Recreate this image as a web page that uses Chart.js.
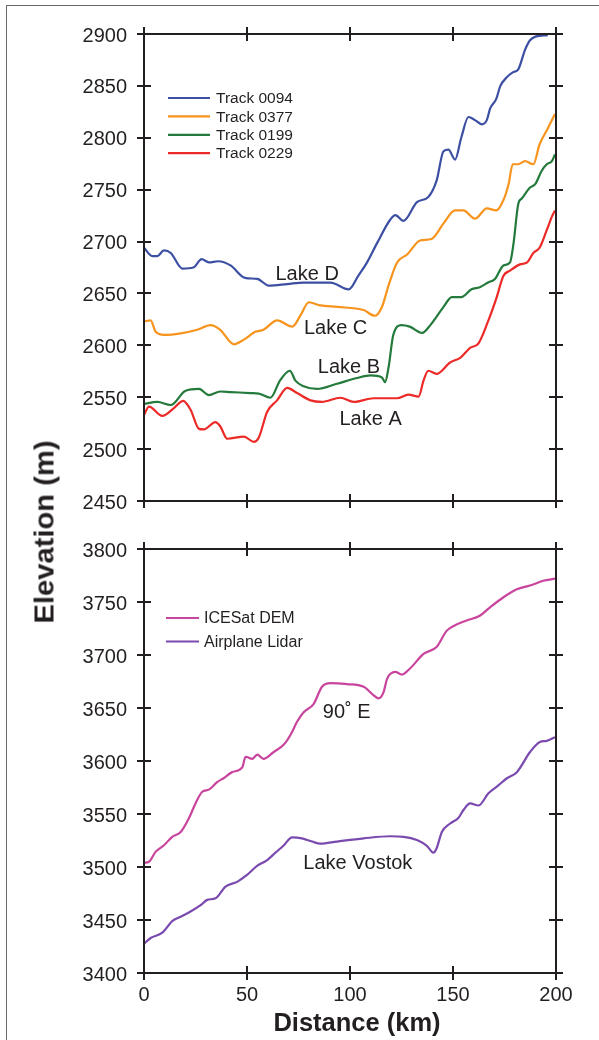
<!DOCTYPE html>
<html>
<head>
<meta charset="utf-8">
<script src="https://cdn.jsdelivr.net/npm/chart.js@4.4.1/dist/chart.umd.min.js"></script>
<style>
  html,body{margin:0;padding:0;background:#fff;}
  body{width:599px;height:1040px;position:relative;overflow:hidden;font-family:"Liberation Sans",Arial,sans-serif;}
  #frame{position:absolute;left:6px;top:5px;width:600px;height:1100px;border-left:1px solid #6a6a6a;border-top:1px solid #6a6a6a;}
  #c1wrap{position:absolute;left:0;top:0;width:599px;height:530px;}
  #c2wrap{position:absolute;left:0;top:520px;width:599px;height:520px;}
  .ytitle{position:absolute;left:45px;top:532px;transform:translate(-50%,-50%) rotate(-90deg) scaleX(1.08);font-weight:bold;font-size:27px;color:#231f20;white-space:nowrap;}
  .xtitle{position:absolute;left:357px;top:1022px;transform:translate(-50%,-50%);font-weight:bold;font-size:25.5px;color:#231f20;white-space:nowrap;}
</style>
</head>
<body>
<div id="frame"></div>
<div id="c1wrap"><canvas id="c1" width="599" height="530"></canvas></div>
<div id="c2wrap"><canvas id="c2" width="599" height="520"></canvas></div>
<div class="ytitle">Elevation (m)</div>
<div class="xtitle">Distance (km)</div>
<script>
// ---------------- DATA ----------------
const xTicks = [0, 50, 100, 150, 200];
const topYTicks = [2450, 2500, 2550, 2600, 2650, 2700, 2750, 2800, 2850, 2900];
const bottomYTicks = [3400, 3450, 3500, 3550, 3600, 3650, 3700, 3750, 3800];

const topLabels = ["Track 0094", "Track 0377", "Track 0199", "Track 0229"];
const bottomLabels = ["ICESat DEM", "Airplane Lidar"];

// Track 0094 (blue)
const track0094Km = [0,4,6.5,9.7,13,18.6,24,28,31.5,36,42,49,55,60.6,69.5,77.5,90.5,99.4,104,108,113,119.5,122,126,132.5,138,142,145.4,147.8,151,154,157.5,160.7,164,166.4,168,171,173,176,179,181.7,185,187.4,190,196];
const track0094M  = [2694,2686,2686,2691.5,2689,2674,2675,2683,2680,2681,2677,2665,2664,2657.5,2659,2660.5,2660.5,2654,2667,2679,2698,2721,2725.5,2720,2738,2743,2758.5,2787,2788.5,2779,2800,2820,2817,2813,2817,2828,2837.5,2850,2858,2863,2866,2885,2894,2897.5,2899];
// Track 0377 (orange)
const track0377Km = [0,3.2,5.7,9.7,17.8,25.8,32.3,37,43.6,48.5,54,58,64.6,72,76,80,85.6,93.7,106.6,112,115.5,118.7,122.8,128,134,139.5,145.4,151,155,160.7,166.4,171,174.5,177,179,181.7,185,189,192,196,199.5];
const track0377M  = [2623,2624,2613,2610,2611.5,2615,2619.5,2615,2601,2605.5,2613,2615,2624,2618,2629,2641.5,2638.5,2637,2634,2628.5,2637,2657.5,2679.5,2688,2701,2702.5,2717.5,2730,2730,2722,2732,2730,2740,2755.5,2774.5,2774.5,2777.5,2774.5,2793.5,2809,2823];
// Track 0199 (green)
const track0199Km = [0,6.5,13,20,26.7,31.5,37,42,51.7,55.7,61.4,66,70.8,73.5,77.5,84,93.7,103.4,110,115.5,117,118.7,121,125,129,135,139,145.4,149.4,154,159,163,167,170.4,174.5,177.7,179.3,181.7,183.4,187.4,190,193,195.5,198,199.5];
const track0199M  = [2543.5,2545.5,2542.5,2556,2558,2552,2555.5,2555,2554,2553.5,2549.5,2566,2575.5,2566,2560.5,2558,2563,2568.5,2571,2569,2564.5,2578.5,2610,2619.5,2618,2612,2619.5,2637,2646.5,2646.5,2654,2656,2660.5,2664,2677,2680,2697,2736.5,2741.5,2752,2755.5,2768,2774.5,2777.5,2784];
// Track 0229 (red)
const track0229Km = [0,2.4,8.9,14.5,19,22.6,26.7,29,34.7,37,40.4,48.5,53.3,55.7,59.8,64.6,69.5,74.3,80.8,86.4,95.3,101.8,111.5,122.8,128.4,133.3,135.7,138,142,148.6,153.5,158.3,162.4,167,171,174.5,177.7,182.5,186,189,192,195.5,198,199.5];
const track0229M  = [2533,2541,2532,2539.5,2546.5,2538,2519.5,2519,2526,2522,2510,2512,2507,2511,2536,2547,2559,2554,2547,2545.5,2549.5,2545.5,2549,2549,2552.5,2550.5,2566,2575.5,2572.5,2583.5,2588,2597.5,2602,2623,2645,2667,2672,2678,2680,2689,2694,2711,2724,2730];

// ICESat DEM (magenta)
const icesatKm = [0,2.4,5.7,9.7,13.7,17.8,21.8,25,28.3,31.5,35.5,38.8,42.8,47.7,49.3,52.5,55,58,63,67.9,71.5,74.3,77.5,82.4,86.4,90.5,98.5,106.6,111.5,113.8,116.3,118,122,125.2,129,135.7,142,147,151,156.6,163,168,174.5,181,187.4,193.8,199.5];
const icesatM  = [3504,3505,3514.5,3520.5,3528.5,3533,3546,3560,3571,3573,3580,3584,3589.5,3594,3604,3602,3606,3602,3608.5,3615.5,3626,3637,3646,3654,3670,3673.5,3672.5,3670,3662,3659,3665,3677.5,3684,3681.5,3687,3701,3707.5,3723,3728,3732.5,3737,3745,3754.5,3762,3765.5,3770,3772];
// Airplane Lidar (purple)
const lidarKm = [0,3.2,8.9,13.7,17.8,22.6,27.5,30.7,34.7,39.6,45.2,50,54.9,59.8,63.8,67.9,71.9,76.7,81.6,85.6,93.7,106.6,119.5,126,132.5,137.3,140.5,142,144.6,148.6,152.7,155,158.3,162.4,167.2,172,176,181,187.4,192.2,195.5,199.5];
const lidarM  = [3427.5,3433,3438,3449,3453,3458,3464,3469,3470.5,3481.5,3486,3492.5,3501,3506.5,3513.5,3520.5,3528,3527,3524,3522,3524,3527,3529,3528.5,3525.5,3520,3513.5,3517.5,3533,3541,3546.5,3553.5,3560,3558,3569.5,3577,3583.5,3589.5,3608.5,3618,3619,3622.5];

// annotations: [text, km, elevation]
const topNotes = [["Lake D", 79.2, 2668.5], ["Lake C", 93.0, 2616.5], ["Lake B", 99.5, 2579], ["Lake A", 110, 2529]];
const bottomNotes = [["90\u02DA E", 98.4, 3645.5], ["Lake Vostok", 103.8, 3503]];

const topColors = ["#3c4fa3", "#f7941e", "#237a3b", "#ec2a28"];
const bottomColors = ["#c9449d", "#7a4aae"];

// ---------------- HELPERS ----------------
const zip = (xs, ys) => xs.map((x, i) => ({x: x, y: ys[i]}));
const INK = "#231f20";
const FONT = '"Liberation Sans", Arial, sans-serif';

function mkDataset(label, xs, ys, color) {
  return {label, data: zip(xs, ys), borderColor: color, backgroundColor: color,
    borderWidth: 2.2, pointRadius: 0, tension: 0, cubicInterpolationMode: 'monotone',
    fill: false};
}

const framePlugin = {
  id: 'frameTicks',
  afterDatasetsDraw(chart, args, opts) {
    const {ctx, chartArea: a, scales: {x, y}} = chart;
    ctx.save();
    ctx.strokeStyle = INK;
    ctx.lineWidth = 2;
    ctx.strokeRect(a.left, a.top, a.right - a.left, a.bottom - a.top);
    const L = 7;
    ctx.beginPath();
    y.ticks.forEach(t => {
      const py = Math.round(y.getPixelForValue(t.value));
      ctx.moveTo(a.left - L, py); ctx.lineTo(a.left + L, py);
      ctx.moveTo(a.right - L, py); ctx.lineTo(a.right + L, py);
    });
    x.ticks.forEach(t => {
      const px = Math.round(x.getPixelForValue(t.value));
      ctx.moveTo(px, a.top - L); ctx.lineTo(px, a.top + L);
      ctx.moveTo(px, a.bottom - L); ctx.lineTo(px, a.bottom + L);
    });
    ctx.stroke();
    // annotations
    ctx.fillStyle = INK;
    ctx.font = '20px ' + FONT;
    ctx.textAlign = 'center';
    ctx.textBaseline = 'middle';
    (opts.notes || []).forEach(n => {
      ctx.fillText(n[0], x.getPixelForValue(n[1]), y.getPixelForValue(n[2]));
    });
    // legend
    const lg = opts.legend;
    if (lg) {
      ctx.font = lg.size + 'px ' + FONT;
      ctx.textAlign = 'left';
      chart.data.datasets.forEach((ds, i) => {
        const yy = lg.y + i * lg.step;
        ctx.strokeStyle = ds.borderColor;
        ctx.lineWidth = 2.2;
        ctx.beginPath();
        ctx.moveTo(lg.x0, yy); ctx.lineTo(lg.x1, yy);
        ctx.stroke();
        ctx.fillStyle = INK;
        ctx.fillText(ds.label, lg.tx, yy + 1);
      });
    }
    ctx.restore();
  }
};

function makeChart(id, datasets, yTicks, showX, padTop, xHeight, notes, legend) {
  return new Chart(document.getElementById(id), {
    type: 'line',
    data: {datasets},
    plugins: [framePlugin],
    options: {
      responsive: false,
      animation: false,
      events: [],
      layout: {padding: {left: 0, right: 43, top: padTop, bottom: 0}},
      plugins: {legend: {display: false}, tooltip: {enabled: false},
        frameTicks: {notes, legend}},
      scales: {
        x: {
          type: 'linear', min: xTicks[0], max: xTicks[xTicks.length - 1],
          afterBuildTicks: s => { s.ticks = xTicks.map(v => ({value: v})); },
          grid: {display: false, drawTicks: false}, border: {display: false},
          ticks: {display: showX, padding: 10, color: INK, font: {size: 20, family: FONT},
                  maxRotation: 0, autoSkip: false},
          afterFit: s => { s.height = xHeight; }
        },
        y: {
          type: 'linear', min: yTicks[0], max: yTicks[yTicks.length - 1],
          afterBuildTicks: s => { s.ticks = yTicks.map(v => ({value: v})); },
          grid: {display: false, drawTicks: false}, border: {display: false},
          ticks: {padding: 17, labelOffset: 2, color: INK, font: {size: 20, family: FONT}, autoSkip: false,
                  callback: v => String(v)},
          afterFit: s => { s.width = 144; }
        }
      }
    }
  });
}

const topSets = [
  mkDataset(topLabels[0], track0094Km, track0094M, topColors[0]),
  mkDataset(topLabels[1], track0377Km, track0377M, topColors[1]),
  mkDataset(topLabels[2], track0199Km, track0199M, topColors[2]),
  mkDataset(topLabels[3], track0229Km, track0229M, topColors[3])
];
const bottomSets = [
  mkDataset(bottomLabels[0], icesatKm, icesatM, bottomColors[0]),
  mkDataset(bottomLabels[1], lidarKm, lidarM, bottomColors[1])
];

makeChart('c1', topSets, topYTicks, false, 34, 20, topNotes,
  {x0: 168, x1: 210, tx: 216, y: 98, step: 18.4, size: 15.5});
makeChart('c2', bottomSets, bottomYTicks, true, 28, 67, bottomNotes,
  {x0: 166, x1: 199, tx: 204, y: 98, step: 23.5, size: 16});
</script>
</body>
</html>
